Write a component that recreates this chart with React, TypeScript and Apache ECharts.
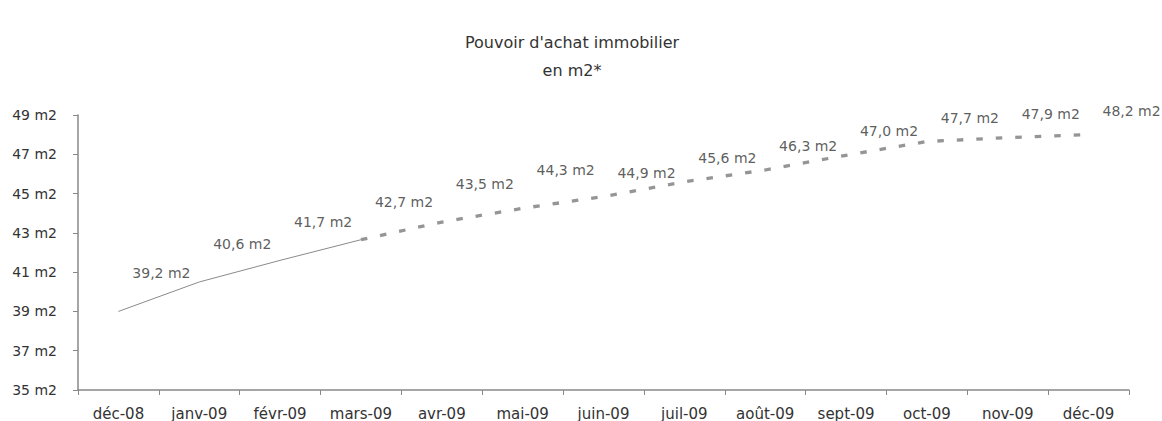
import React, { useEffect, useRef } from "react";
import * as echarts from "echarts";

const categories = [
  "déc-08", "janv-09", "févr-09", "mars-09", "avr-09", "mai-09", "juin-09",
  "juil-09", "août-09", "sept-09", "oct-09", "nov-09", "déc-09",
];
// values
const lineValues = [39.0, 40.5, 41.6, 42.65, 43.55, 44.25, 44.85, 45.6, 46.2, 46.95, 47.65, 47.85, 48.0];
// values written in the data labels
const labelValues = [39.2, 40.6, 41.7, 42.7, 43.5, 44.3, 44.9, 45.6, 46.3, 47.0, 47.7, 47.9, 48.2];
const solidUntil = 3; // index of last solid point (mars-09)
const yTicks = [35, 37, 39, 41, 43, 45, 47, 49];

const FONT = "DejaVu Sans, Liberation Sans, Arial, sans-serif";
const TEXT = "#333333";

export default function App() {
  const ref = useRef<HTMLDivElement>(null);
  useEffect(() => {
    if (!ref.current) return;
    const chart = echarts.init(ref.current, undefined, { renderer: "svg" });
    const solid = lineValues.map((v, i) => (i <= solidUntil ? v : null));
    const dashed = lineValues.map((v, i) => (i >= solidUntil ? v : null));
    const fmt = (v: number) => v.toFixed(1).replace(".", ",") + " m2";
    chart.setOption({
      animation: false,
      title: {
        text: "Pouvoir d'achat immobilier\nen m2*",
        left: 572,
        top: 28,
        padding: 0,
        textAlign: "center",
        textStyle: {
          fontFamily: FONT,
          fontSize: 16,
          fontWeight: "normal",
          color: TEXT,
          lineHeight: 28,
        },
      },
      grid: { left: 78, right: 33, top: 115, bottom: 31, containLabel: false },
      xAxis: {
        type: "category",
        data: categories,
        boundaryGap: true,
        axisLine: { lineStyle: { color: "#888888", width: 1.5 } },
        axisTick: { show: true, length: 5, lineStyle: { color: "#888888" } },
        axisLabel: { color: TEXT, fontFamily: FONT, fontSize: 15, margin: 16, interval: 0 },
        splitLine: { show: false },
      },
      yAxis: {
        type: "value",
        min: yTicks[0],
        max: yTicks[yTicks.length - 1],
        interval: 2,
        axisLine: { show: true, lineStyle: { color: "#888888", width: 1.5 } },
        axisTick: { show: true, length: 5, lineStyle: { color: "#888888" } },
        axisLabel: {
          color: TEXT,
          fontFamily: FONT,
          fontSize: 14,
          margin: 21,
          formatter: (v: number) => `${v} m2`,
        },
        splitLine: { show: false },
      },
      series: [
        {
          type: "line",
          data: solid,
          symbol: "none",
          lineStyle: { color: "#8a8a8a", width: 1 },
          silent: true,
        },
        {
          type: "line",
          data: dashed,
          symbol: "none",
          lineStyle: { color: "#959595", width: 3.3, type: [6.5, 13] },
          silent: true,
        },
        {
          type: "scatter",
          data: lineValues.map((v, i) => ({
            value: v,
            label: { offset: [43, i < 6 ? -38 : -24] },
          })),
          symbolSize: 1,
          itemStyle: { color: "rgba(0,0,0,0)" },
          label: {
            show: true,
            position: "inside",
            color: TEXT,
            fontFamily: FONT,
            fontSize: 14,
            formatter: (p: any) => fmt(labelValues[p.dataIndex]),
          },
          silent: true,
        },
      ],
    });
    return () => chart.dispose();
  }, []);
  return (
    <div
      ref={ref}
      style={{ position: "absolute", left: 0, top: 0, width: 1162, height: 421, background: "#fff" }}
    />
  );
}
